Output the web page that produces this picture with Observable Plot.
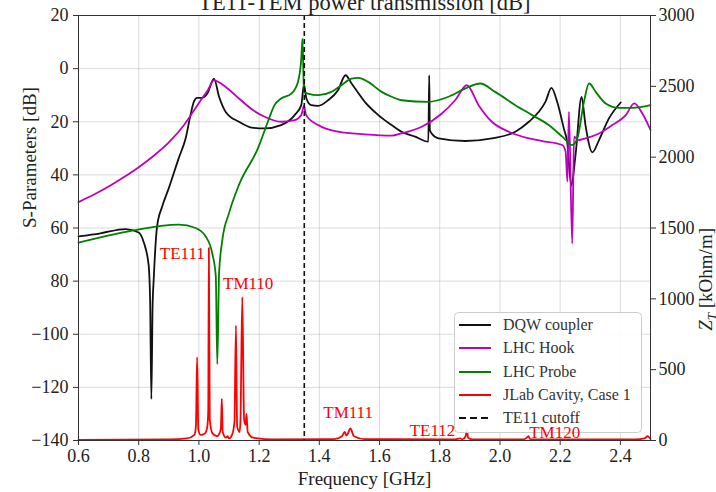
<!DOCTYPE html>
<html><head><meta charset="utf-8">
<script src="https://cdn.jsdelivr.net/npm/d3@7"></script>
<script src="https://cdn.jsdelivr.net/npm/@observablehq/plot@0.6"></script>
<style>
body{margin:0;background:#fff;}
#wrap{position:relative;width:716px;height:492px;overflow:hidden;font-family:"Liberation Serif",serif;}
</style></head><body><div id="wrap"></div>
<script>
// ---- data ----
const titleText = "TE11-TEM power transmission [dB]";
const xLabel = "Frequency [GHz]";
const yLabel = "S-Parameters [dB]";
const y2Label = "ZT [kOhm/m]";

const freqTicks = [0.6, 0.8, 1.0, 1.2, 1.4, 1.6, 1.8, 2.0, 2.2, 2.4];
const freqTickLabels = ["0.6", "0.8", "1.0", "1.2", "1.4", "1.6", "1.8", "2.0", "2.2", "2.4"];
const sTicks = [20, 0, -20, -40, -60, -80, -100, -120, -140];
const sTickLabels = ["20", "0", "20", "40", "60", "80", "\u2212100", "\u2212120", "\u2212140"];
const ztTicks = [0, 500, 1000, 1500, 2000, 2500, 3000];
const ztTickLabels = ["0", "500", "1000", "1500", "2000", "2500", "3000"];

const seriesNames = ["DQW coupler", "LHC Hook", "LHC Probe", "JLab Cavity, Case 1", "TE11 cutoff"];
const seriesColors = ["#111111", "#bf00bf", "#008000", "#ff0000", "#111111"];

// DQW coupler (S-parameter, dB)
const dqwF = [0.6,0.673,0.756,0.8,0.817,0.833,0.838,0.842,0.846,0.85,0.861,0.878,0.9,0.933,0.956,0.972,0.983,0.994,1.011,1.028,1.05,1.067,1.089,1.133,1.175,1.218,1.273,1.318,1.34,1.349,1.357,1.373,1.396,1.429,1.462,1.487,1.507,1.551,1.596,1.64,1.673,1.718,1.762,1.765,1.767,1.773,1.796,1.884,1.973,2.051,2.096,2.129,2.151,2.171,2.19,2.212,2.223,2.237,2.251,2.271,2.284,2.307,2.329,2.362,2.401];
const dqwS = [-63.2,-62,-60.4,-61.7,-65.5,-74,-88,-124.4,-90,-79,-59.4,-51.9,-45,-33.7,-26.2,-17.5,-12.5,-11,-11,-9.4,-3.75,-10.6,-16.3,-20,-22.2,-22.5,-21.25,-17.5,-13.75,-6,-11.25,-13.75,-14,-11.9,-8.1,-2.5,-5.6,-12.5,-17.5,-21.25,-23.75,-25.6,-27.5,-2.5,-23,-24.4,-26.25,-27.25,-26.25,-23.75,-20,-16.25,-12.5,-7.25,-12.5,-22.5,-27.5,-44,-32.5,-10.6,-21.25,-31.5,-26.9,-18.75,-12.75];

// LHC Hook
const hookF = [0.6,0.65,0.7,0.75,0.8,0.85,0.9,0.95,1.0,1.03,1.05,1.089,1.133,1.178,1.218,1.273,1.318,1.34,1.349,1.356,1.396,1.462,1.551,1.64,1.673,1.74,1.807,1.851,1.89,1.929,1.973,2.029,2.096,2.14,2.207,2.218,2.224,2.229,2.24,2.246,2.26,2.284,2.329,2.373,2.418,2.446,2.473,2.5];
const hookS = [-50.25,-47.5,-44.4,-40.9,-37.1,-32.8,-27.8,-21.3,-12.9,-8.0,-4.4,-6.9,-11.25,-15.5,-18.1,-20,-19.4,-17.5,-14,-17.5,-21.25,-23.75,-24.75,-25.25,-24.4,-21.9,-16.9,-11.9,-6.25,-13.75,-20,-23.75,-26.25,-27.25,-28.75,-31.25,-42.5,-16.25,-65.9,-25.6,-26.9,-26.25,-24.4,-21.25,-17.5,-13.1,-16.9,-23.1];

// LHC Probe
const probeF = [0.6,0.767,0.933,0.989,1.022,1.044,1.056,1.061,1.067,1.078,1.1,1.133,1.196,1.229,1.251,1.273,1.307,1.329,1.34,1.344,1.349,1.362,1.396,1.44,1.473,1.507,1.529,1.562,1.607,1.64,1.673,1.762,1.829,1.884,1.934,1.984,2.051,2.107,2.162,2.207,2.24,2.257,2.279,2.296,2.318,2.351,2.396,2.44,2.5];
const probeS = [-65.5,-61.25,-58.75,-60,-63.1,-69.4,-78.1,-111.25,-76.9,-64.4,-54.4,-43.75,-30,-20,-13.75,-11.25,-9.4,-5,3.75,11.25,-8.75,-9.4,-10,-8.75,-6.25,-3.75,-3.5,-5,-8.75,-10.6,-11.9,-12.5,-10.6,-7.5,-5.6,-8.75,-13.75,-17.5,-21.25,-25.6,-28.75,-26.25,-12.5,-5.6,-8.75,-13.1,-14.75,-14.75,-13.75];

// JLab Cavity, Case 1 (Z_T, kOhm/m, right axis)
const jlabF = [0.6,0.9,0.96,0.985,0.99,0.994,0.998,1.005,1.02,1.028,1.031,1.033,1.036,1.045,1.06,1.07,1.073,1.076,1.079,1.09,1.095,1.1,1.11,1.118,1.123,1.127,1.135,1.138,1.144,1.15,1.155,1.158,1.162,1.18,1.25,1.45,1.475,1.484,1.49,1.495,1.503,1.515,1.55,1.85,1.868,1.875,1.886,1.89,1.894,1.91,2.08,2.09,2.095,2.1,2.45,2.48,2.49,2.5];
const jlabZ = [5,8,15,40,100,588,80,40,50,100,212,1360,150,50,30,60,90,294,60,20,30,15,40,129,812,100,60,140,1012,150,110,188,60,20,8,10,30,60,35,50,85,30,10,8,15,8,30,80,20,8,8,22,30,10,8,15,30,10];

const cutoffF = [1.35];

// mode annotations (position in f and Z_T units)
const modeLabels = ["TE111", "TM110", "TM111", "TE112", "TM120"];
const modeF = [0.87, 1.08, 1.413, 1.70, 2.097];
const modeZ = [1278, 1066, 162, 35, 21];

// ---- build ----
const S_MIN = -140, S_MAX = 20, Z_MAX = 3000;
const zToS = z => S_MIN + z * (S_MAX - S_MIN) / Z_MAX;

const mk = (F, V) => F.map((f, i) => ({f, v: V[i]}));
const dqw = mk(dqwF, dqwS), hook = mk(hookF, hookS), probe = mk(probeF, probeS);
const jlab = jlabF.map((f, i) => ({f, v: zToS(jlabZ[i])}));

const sMap = new Map(sTicks.map((t, i) => [t, sTickLabels[i]]));
const fMap = new Map(freqTicks.map((t, i) => [t, freqTickLabels[i]]));
const ztPos = ztTicks.map(zToS);
const zMap = new Map(ztPos.map((t, i) => [t, ztTickLabels[i]]));

const lineOpts = (c) => ({x: "f", y: "v", stroke: c, strokeWidth: 1.8, curve: "monotone-x"});

const chart = Plot.plot({
  width: 716, height: 492,
  marginLeft: 78, marginRight: 66, marginTop: 15, marginBottom: 52,
  style: {fontFamily: "'Liberation Serif', serif", fontSize: "18px", background: "#fff", color: "#222"},
  x: {domain: [0.6, 2.5]},
  y: {domain: [S_MIN, S_MAX]},
  marks: [
    Plot.gridX(freqTicks, {stroke: "#b0b0b0", strokeOpacity: 0.45, strokeWidth: 1}),
    Plot.gridY(sTicks, {stroke: "#b0b0b0", strokeOpacity: 0.45, strokeWidth: 1}),
    Plot.line(jlab, lineOpts(seriesColors[3])),
    Plot.line(dqw, lineOpts(seriesColors[0])),
    Plot.line(hook, lineOpts(seriesColors[1])),
    Plot.line(probe, lineOpts(seriesColors[2])),
    Plot.ruleX(cutoffF, {stroke: "#111", strokeWidth: 1.6, strokeDasharray: "5,3"}),
    Plot.frame({stroke: "#333", strokeWidth: 1}),
    Plot.axisX(freqTicks, {tickFormat: d => fMap.get(d), tickSize: 5, tickPadding: 4, fontSize: 18, label: null, stroke: "#333"}),
    Plot.axisY(sTicks, {tickFormat: d => sMap.get(d), tickSize: 5, tickPadding: 5, fontSize: 18, label: null, stroke: "#333"}),
    Plot.axisY(ztPos, {anchor: "right", tickFormat: d => zMap.get(d), tickSize: 5, tickPadding: 3, fontSize: 18, label: null, stroke: "#333"}),
    Plot.text([titleText], {frameAnchor: "top", dy: -6, lineAnchor: "bottom", fontSize: 22.5, fill: "#222"}),
    Plot.text([xLabel], {frameAnchor: "bottom", dy: 44, lineAnchor: "bottom", fontSize: 19, fill: "#222"}),
    Plot.text([yLabel], {frameAnchor: "left", dx: -43, rotate: -90, lineAnchor: "bottom", fontSize: 19, fill: "#222"}),
    Plot.text([y2Label], {frameAnchor: "right", dx: 61, rotate: -90, lineAnchor: "bottom", fontSize: 19, fill: "#222"}),
    Plot.text(modeLabels, {x: (d, i) => modeF[i], y: (d, i) => zToS(modeZ[i]), text: d => d, fill: "#ff0000", textAnchor: "start", lineAnchor: "bottom", fontSize: 17})
  ]
});

document.getElementById("wrap").appendChild(chart);
const svg = d3.select(chart);

// subscript for Z_T
svg.selectAll("text").filter(function() { return this.textContent === y2Label; })
  .each(function() {
    const t = d3.select(this);
    t.text(null);
    t.append("tspan").attr("font-style", "italic").text("Z");
    t.append("tspan").attr("font-size", 13).attr("font-style", "italic").attr("dy", 4).text("T");
    t.append("tspan").attr("dy", -4).text(" [kOhm/m]");
  });

// legend (inside the SVG, below the mode labels)
const modeG = svg.selectAll("text").filter(function() { return this.textContent === modeLabels[0]; }).node().parentNode;
const lg = svg.append("g")
  .attr("font-family", "'Liberation Serif', serif")
  .attr("font-size", 16)
  .attr("text-anchor", "start");
lg.append("rect").attr("x", 454.5).attr("y", 312.5).attr("width", 187).attr("height", 120).attr("rx", 4).attr("ry", 4)
  .style("fill", "#ffffff").style("fill-opacity", 0.9).style("stroke", "#cccccc").style("stroke-width", 1);
const rowY = [325, 348, 372, 395, 418];
seriesNames.forEach((name, i) => {
  lg.append("line").attr("x1", 459).attr("x2", 491).attr("y1", rowY[i]).attr("y2", rowY[i])
    .style("stroke", seriesColors[i]).style("stroke-width", 2).style("stroke-dasharray", i === 4 ? "7,4" : null);
  lg.append("text").attr("x", 503).attr("y", rowY[i]).attr("dy", "0.33em")
    .style("fill", "#333").style("text-anchor", "start").text(name);
});
chart.appendChild(modeG);
</script></body></html>
